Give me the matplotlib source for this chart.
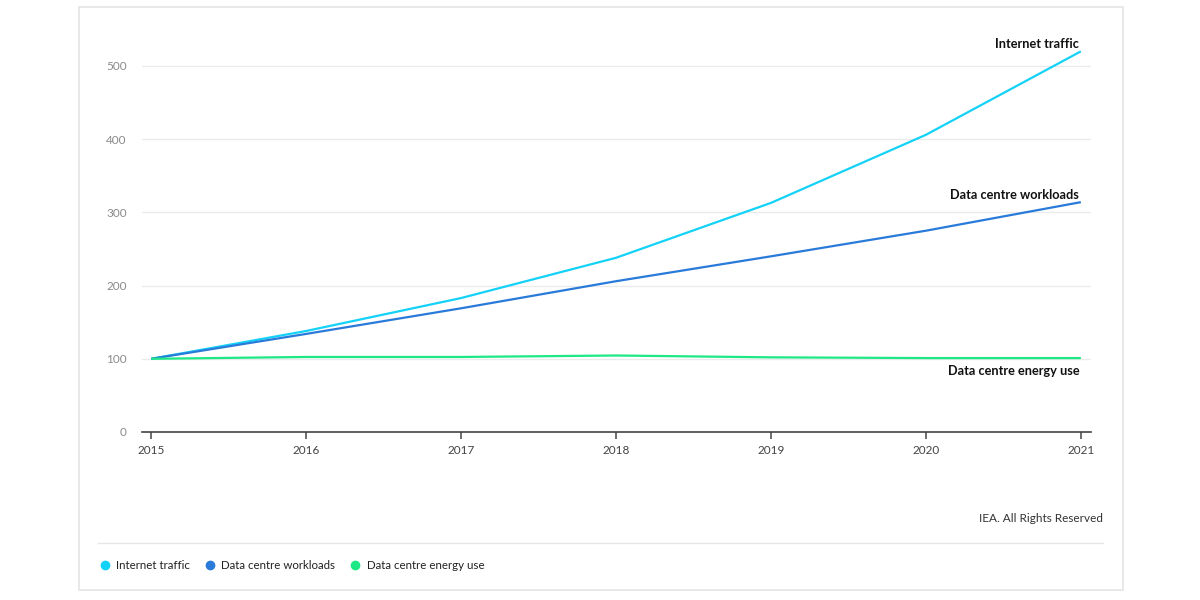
import matplotlib
matplotlib.use('agg')
from matplotlib import pyplot as plt
from matplotlib.lines import Line2D
from matplotlib.patches import Rectangle

plt.rcParams['font.family'] = ['Lato', 'DejaVu Sans']

years = [2015, 2016, 2017, 2018, 2019, 2020, 2021]
internet_traffic = [100, 138, 183, 238, 313, 406, 520]
dc_workloads = [100, 134, 169, 206, 240, 275, 314]
dc_energy = [100, 102.5, 102.5, 104.5, 102, 101, 101]

series_names = ["Internet traffic", "Data centre workloads", "Data centre energy use"]
series_colors = ['#14d2f7', '#2a7bd9', '#1ee886']
yticks = [0, 100, 200, 300, 400, 500]

fig = plt.figure(figsize=(12, 6), dpi=100)
fig.patch.set_facecolor('white')

# outer frame
fig.patches.append(Rectangle((0.0658, 0.0167), 0.87, 0.9717, transform=fig.transFigure,
                             fill=False, edgecolor='#e4e4e4', linewidth=1.2))

ax = fig.add_axes([0.1183, 0.28, 0.7908, 0.671])

for vals, name, col in zip([internet_traffic, dc_workloads, dc_energy], series_names, series_colors):
    ax.plot(years, vals, color=col, linewidth=1.6, solid_capstyle='butt', zorder=3)

ax.set_xlim(2014.94, 2021.065)
ax.set_ylim(0, 550)
ax.set_yticks(yticks)
ax.set_xticks(years)
ax.grid(axis='y', color='#ebebeb', linewidth=1)
ax.set_axisbelow(True)
for s in ['top', 'right', 'left']:
    ax.spines[s].set_visible(False)
ax.spines['bottom'].set_color('#444444')
ax.spines['bottom'].set_linewidth(1.2)
ax.tick_params(axis='y', length=0, pad=11, labelsize=8.5, labelcolor='#8a8a8a')
ax.tick_params(axis='x', length=5, width=1.1, color='#444444', pad=4, labelsize=8.5, labelcolor='#444444')

# end labels
ax.text(years[-1] - 0.01, internet_traffic[-1] + 2, series_names[0], ha='right', va='bottom',
        fontsize=9.2, fontweight='bold', color='#111111')
ax.text(years[-1] - 0.01, dc_workloads[-1] + 2, series_names[1], ha='right', va='bottom',
        fontsize=9.2, fontweight='bold', color='#111111')
ax.text(years[-1] - 0.01, dc_energy[-1] - 9, series_names[2], ha='right', va='top',
        fontsize=9.2, fontweight='bold', color='#111111')

fig.text(0.919, 0.135, "IEA. All Rights Reserved", ha='right', va='center', fontsize=8.5, color='#333333')

fig.add_artist(Line2D([0.0817, 0.919], [0.095, 0.095], transform=fig.transFigure,
                      color='#e6e6e6', linewidth=1))

handles = [Line2D([], [], marker='o', linestyle='none', markersize=6, color=c) for c in series_colors]
fig.legend(handles, series_names, loc='center left', bbox_to_anchor=(0.074, 0.057), ncol=3,
           frameon=False, fontsize=8.3, handletextpad=0.5, columnspacing=1.2, handlelength=1.0,
           labelcolor='#222222')

fig.savefig('out.png', dpi=100, facecolor='white')
